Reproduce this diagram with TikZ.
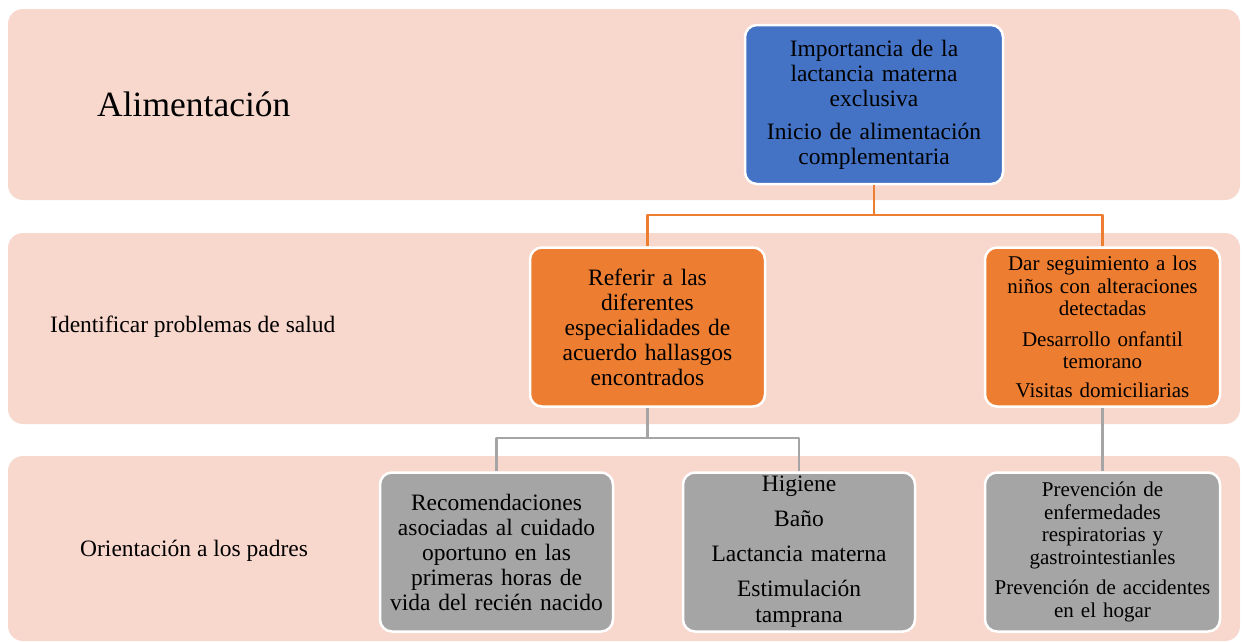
\documentclass[tikz,border=0pt]{standalone}
\usepackage{fontspec}
\setmainfont{Liberation Serif}
\definecolor{banda}{HTML}{F8D7CD}
\definecolor{azul}{HTML}{4472C4}
\definecolor{naranja}{HTML}{ED7D31}
\definecolor{gris}{HTML}{A5A5A5}
\begin{document}
\begin{tikzpicture}[x=1pt, y=-1pt, line join=round, line cap=round,
	banda/.style={fill=banda, rounded corners=15pt},
	caja/.style={draw=white, line width=2.5pt, rounded corners=12pt, align=center, inner sep=0pt,
		font=\fontsize{23.5}{25}\selectfont, minimum height=159pt},
	etiqueta/.style={anchor=west, inner sep=0pt, font=\fontsize{23.5}{25}\selectfont},
	linea/.style={line width=2.5pt, line cap=butt}]
			\useasboundingbox (0,0) rectangle (1244,641);
			\fill[banda] (8,9) rectangle (1240,200);
			\fill[banda] (8,233) rectangle (1240,424);
			\fill[banda] (8,456) rectangle (1240,641);
			\node[etiqueta, font=\fontsize{35.5}{38}\selectfont] (alim) at (97,104) {Alimentación};
			\node[etiqueta] (ident) at (50,327) {Identificar problemas de salud};
			\node[etiqueta] (orient) at (80,551) {Orientación a los padres};
			\node[caja, fill=azul, minimum width=258pt, text width=240pt] (lact) at (874,104.5)
				{Importancia de la\\ lactancia materna\\ exclusiva\\[8pt] Inicio de alimentación\\ complementaria};
			\node[caja, fill=naranja, minimum width=235pt, text width=225pt] (refer) at (647.5,327)
				{Referir a las\\ diferentes\\ especialidades de\\ acuerdo hallasgos\\ encontrados};
			\node[caja, fill=naranja, minimum width=235pt, text width=225pt, font=\fontsize{21}{22.5}\selectfont] (segui) at (1102.5,327)
				{Dar seguimiento a los\\ niños con alteraciones\\ detectadas\\[8pt] Desarrollo onfantil\\ temorano\\[6pt] Visitas domiciliarias};
			\node[caja, fill=gris, minimum width=233pt, text width=225pt] (recom) at (496.5,552)
				{Recomendaciones\\ asociadas al cuidado\\ oportuno en las\\ primeras horas de\\ vida del recién nacido};
			\node[caja, fill=gris, minimum width=232pt, text width=225pt, font=\fontsize{23.5}{26}\selectfont] (higi) at (799,552)
				{Higiene\\[9pt] Baño\\[9pt] Lactancia materna\\[9pt] Estimulación\\ tamprana};
			\node[caja, fill=gris, minimum width=235pt, text width=228pt, font=\fontsize{21}{22.5}\selectfont] (prev) at (1102.5,552)
				{Prevención de\\ enfermedades\\ respiratorias y\\ gastrointestianles\\[8pt] Prevención de accidentes\\ en el hogar};
			% conectores
			\coordinate (j1) at (lact.south |- 0,215);
			\coordinate (j2) at (refer.south |- 0,438);
			\draw[linea, naranja] (lact.south) -- (j1);
			\draw[linea, naranja] (refer.north) |- (j1) -| (segui.north);
			\draw[linea, gris] (refer.south) -- (j2);
			\draw[linea, gris] (recom.north) |- (j2) -| (higi.north);
			\draw[linea, gris] (segui.south) -- (prev.north);
		\end{tikzpicture}
\end{document}
